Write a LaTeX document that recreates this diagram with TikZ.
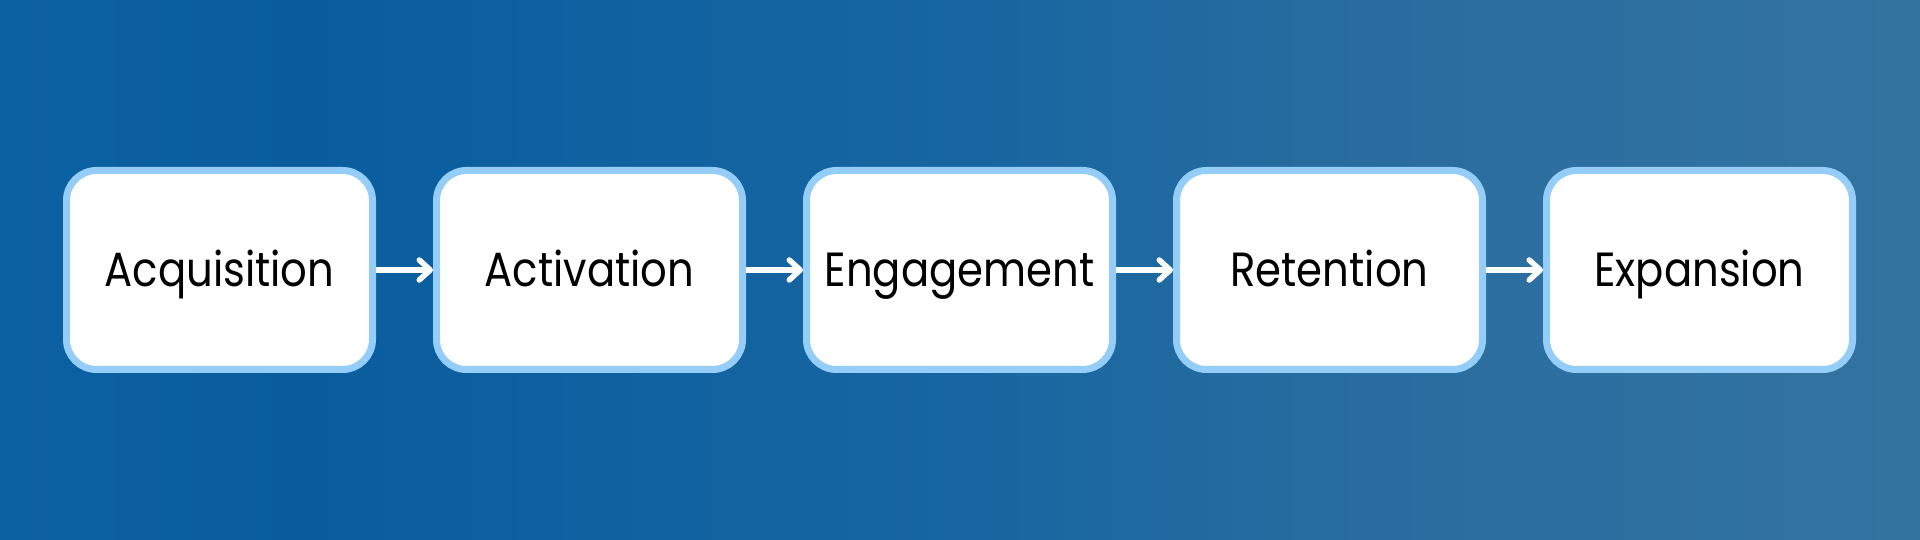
\documentclass[tikz,border=0pt]{standalone}
\usepackage{fontspec}
\setmainfont{Poppins}[FakeStretch=0.87]
\usetikzlibrary{arrows.meta}
\definecolor{bgA}{HTML}{0C61A3}
\definecolor{bgB}{HTML}{095D9F}
\definecolor{bgC}{HTML}{1766A1}
\definecolor{bgE}{HTML}{296DA0}
\definecolor{bgD}{HTML}{3373A0}
\definecolor{boxborder}{HTML}{93CDF8}
% TikZ maps the path onto the central 25bp..75bp of the shading
\pgfdeclarehorizontalshading{bgshade}{100bp}{color(0bp)=(bgA); color(25bp)=(bgA); color(33bp)=(bgB); color(50bp)=(bgC); color(61bp)=(bgE); color(75bp)=(bgD); color(100bp)=(bgD)}
\tikzset{
  stage/.style={draw=boxborder, fill=white, line width=7pt, rounded corners=30pt,
    minimum width=306pt, minimum height=199pt, inner sep=0pt,
    text height=34pt, text depth=0pt,
    font=\fontsize{48pt}{54pt}\selectfont, text=black},
  flow/.style={draw=white, line width=5.5pt,
    -{Straight Barb[length=11pt, width=20pt, line cap=round, line join=round]}}
}
\begin{document}
\begin{tikzpicture}[x=1pt,y=1pt]
\useasboundingbox (0,0) rectangle (1920,540);
\shade[shading=bgshade] (0,0) rectangle (1920,540);
\node[stage] (s1) at (219.5,270) {Acquisition};
\node[stage] (s2) at (589.5,270) {Activation};
\node[stage] (s3) at (959.5,270) {Engagement};
\node[stage] (s4) at (1329.5,270) {Retention};
\node[stage] (s5) at (1699.5,270) {Expansion};
\draw[flow] (s1.east) -- (s2.west);
\draw[flow] (s2.east) -- (s3.west);
\draw[flow] (s3.east) -- (s4.west);
\draw[flow] (s4.east) -- (s5.west);
\end{tikzpicture}
\end{document}
